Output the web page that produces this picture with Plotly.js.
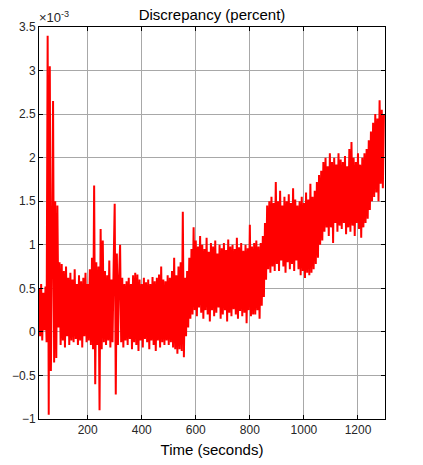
<!DOCTYPE html>
<html>
<head>
<meta charset="utf-8">
<script src="https://cdn.plot.ly/plotly-3.0.1.min.js"></script>
<style>
  html, body { margin: 0; padding: 0; background: #fff; }
  #chart { width: 423px; height: 465px; }
</style>
</head>
<body>
<div id="chart"></div>
<script>
// Sampling of the recorded signal (seconds)
const startTime = 20;
const sampleStep = 4;

// Discrepancy values, in units of 10^-3 percent
const discrepancy = [
  0.50,-0.05,0.55,-0.10,0.45,0.02,0.52,-0.12,3.40,-0.95,
  3.05,-0.45,0.85,2.65,-0.35,1.50,-0.30,1.45,0.05,0.80,
  -0.15,0.78,-0.10,0.70,-0.18,0.75,-0.05,0.62,-0.15,0.68,
  -0.10,0.60,-0.12,0.72,-0.08,0.55,-0.15,0.65,-0.10,0.58,
  -0.18,0.62,-0.05,0.68,-0.12,0.55,-0.10,0.72,-0.15,0.85,
  -0.20,1.68,-0.60,0.80,-0.15,0.75,-0.90,1.18,-0.20,1.05,
  -0.12,0.70,-0.15,0.65,-0.10,0.82,-0.18,0.60,-0.12,0.75,
  1.47,-0.72,0.90,-0.15,0.60,1.00,-0.12,0.62,-0.18,0.55,
  -0.10,0.58,-0.15,0.62,-0.08,0.55,-0.20,0.65,-0.12,0.68,
  -0.15,0.66,-0.22,0.60,-0.10,0.55,-0.18,0.62,-0.08,0.57,
  -0.12,0.60,-0.20,0.55,-0.10,0.63,-0.15,0.58,-0.22,0.62,
  -0.10,0.66,-0.18,0.75,-0.12,0.60,-0.15,0.58,-0.10,0.65,
  -0.15,0.62,-0.12,0.70,-0.18,0.85,-0.20,0.65,-0.25,0.75,
  -0.20,0.80,-0.22,1.38,-0.29,0.62,-0.05,0.70,0.05,0.85,
  0.15,0.95,0.20,1.20,0.25,1.05,0.18,0.98,0.28,1.10,
  0.22,1.00,0.15,0.95,0.25,1.08,0.20,0.92,0.12,1.02,
  0.25,0.98,0.18,1.05,0.22,0.90,0.28,1.00,0.15,0.96,
  0.20,1.02,0.25,0.94,0.12,1.06,0.22,0.98,0.18,1.00,
  0.26,0.95,0.20,1.08,0.15,0.97,0.24,1.02,0.18,0.93,
  0.22,1.00,0.10,0.96,0.25,1.23,0.18,0.98,0.20,1.02,
  0.20,1.05,0.25,0.98,0.15,1.02,0.30,1.10,0.40,1.25,
  0.60,1.45,0.72,1.50,0.68,1.55,0.75,1.48,0.70,1.72,
  0.78,1.50,0.70,1.62,0.82,1.45,0.75,1.55,0.68,1.50,
  0.80,1.58,0.72,1.48,0.78,1.65,0.70,1.52,0.82,1.45,
  0.72,1.50,0.65,1.55,0.70,1.48,0.62,1.60,0.68,1.52,
  0.65,1.70,0.68,1.55,0.72,1.62,0.78,1.72,0.85,1.80,
  1.00,1.85,1.05,1.95,1.15,2.00,1.20,1.90,1.10,2.05,
  1.20,1.95,1.02,2.00,1.25,1.92,1.15,2.05,1.22,1.98,
  1.18,1.95,1.25,2.02,1.12,1.90,1.20,2.10,1.15,2.18,
  1.22,2.00,1.10,1.95,1.25,2.05,1.18,1.92,1.08,2.00,
  1.20,2.05,1.25,2.10,1.30,2.20,1.40,2.30,1.50,2.40,
  1.55,2.50,1.60,2.45,1.50,2.66,1.70,2.55,1.65,2.50
];

const timeSeconds = discrepancy.map((_, i) => startTime + sampleStep * i);

const xTicks = [200, 400, 600, 800, 1000, 1200];
const yTicks = [-1, -0.5, 0, 0.5, 1, 1.5, 2, 2.5, 3, 3.5];

const font = 'Liberation Sans, Arial, Helvetica, sans-serif';

const trace = {
  x: timeSeconds,
  y: discrepancy,
  type: 'scatter',
  mode: 'lines',
  line: { color: '#ff0000', width: 2, simplify: false },
  hoverinfo: 'skip'
};

const axisCommon = {
  showgrid: true,
  gridcolor: '#a8a8a8',
  gridwidth: 1,
  zeroline: false,
  showline: true,
  linecolor: '#000',
  linewidth: 1,
  mirror: 'ticks',
  ticks: 'inside',
  ticklen: 4,
  tickcolor: '#000',
  tickfont: { family: font, size: 12, color: '#262626' }
};

const layout = {
  width: 423,
  height: 465,
  margin: { l: 39, r: 38, t: 27, b: 46, pad: 0 },
  paper_bgcolor: '#fff',
  plot_bgcolor: '#fff',
  showlegend: false,
  title: {
    text: 'Discrepancy (percent)',
    font: { family: font, size: 15, color: '#000' },
    x: 0.5, xref: 'paper',
    y: 1 - 15 / 465, yref: 'container', yanchor: 'middle'
  },
  xaxis: Object.assign({}, axisCommon, {
    range: [20, 1300],
    tickmode: 'array',
    tickvals: xTicks,
    title: { text: 'Time (seconds)', font: { family: font, size: 15, color: '#000' }, standoff: 8 }
  }),
  yaxis: Object.assign({}, axisCommon, {
    range: [-1, 3.5],
    tickmode: 'array',
    tickvals: yTicks
  }),
  annotations: [{
    text: '×10<sup>-3</sup>',
    xref: 'paper', yref: 'paper',
    x: 0, y: 1,
    xanchor: 'left', yanchor: 'bottom',
    xshift: -2, yshift: 0,
    showarrow: false,
    font: { family: font, size: 13, color: '#262626' }
  }]
};

Plotly.newPlot('chart', [trace], layout, { displayModeBar: false, staticPlot: true });
</script>
</body>
</html>
